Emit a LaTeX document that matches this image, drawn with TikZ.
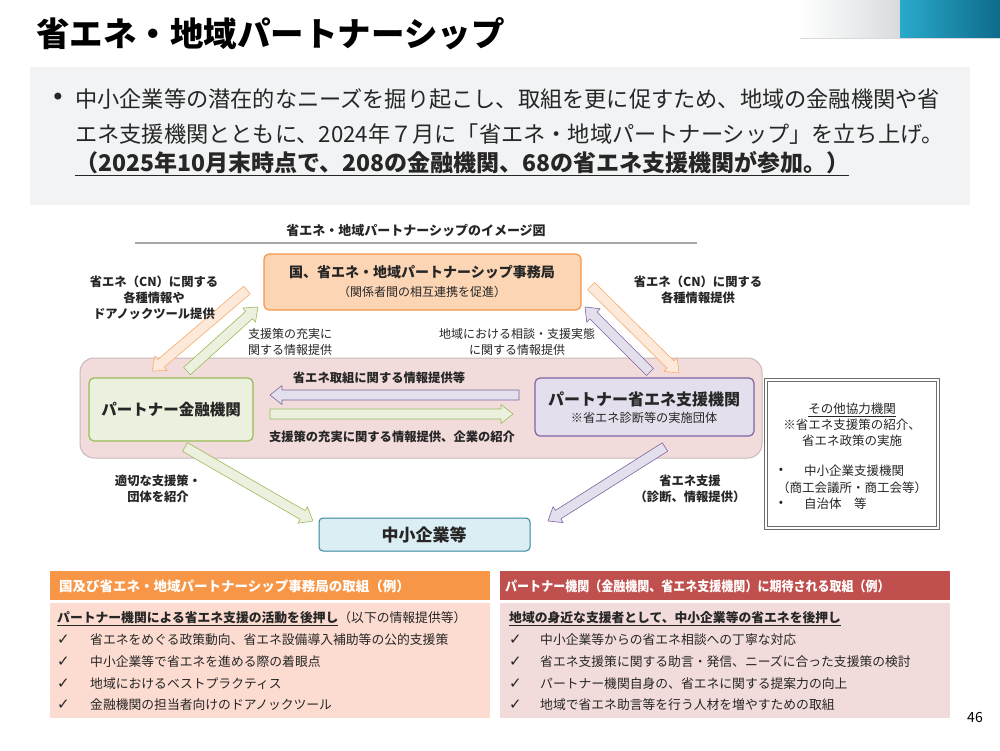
\documentclass[tikz,border=0pt]{standalone}
\usepackage{fontspec}
\setmainfont{Noto Sans CJK JP}
\newfontfamily\dejavu{DejaVu Sans}
\usetikzlibrary{calc}
\definecolor{textc}{HTML}{262626}
\definecolor{graybg}{HTML}{F1F3F4}
\definecolor{orfill}{HTML}{FCD5B4}
\definecolor{orline}{HTML}{F79646}
\definecolor{orlight}{HTML}{FDE9D9}
\definecolor{pinkfill}{HTML}{F2DCDB}
\definecolor{pinkline}{HTML}{C8B9B9}
\definecolor{grfill}{HTML}{EBF1DE}
\definecolor{grline}{HTML}{9BBB59}
\definecolor{pufill}{HTML}{E4DFEC}
\definecolor{puline}{HTML}{8064A2}
\definecolor{blfill}{HTML}{DAEEF3}
\definecolor{blline}{HTML}{31859C}
\definecolor{salmon}{HTML}{FCDCD0}
\definecolor{redh}{HTML}{C0504D}
\definecolor{tealA}{HTML}{2AAACB}
\definecolor{tealB}{HTML}{0E6B8C}
\definecolor{lgray}{HTML}{D8DBDE}
\def\basw{5pt}\def\bahw{9.5pt}\def\bahl{12pt}
\newcommand\blockarrow[3]{%
  \coordinate (ba-h) at ($(#3)!\bahl!(#2)$);
  \path[#1] ($(#2)!\basw!90:(#3)$) -- ($(ba-h)!\basw!90:(#3)$) -- ($(ba-h)!\bahw!90:(#3)$) -- (#3)
    -- ($(ba-h)!\bahw!-90:(#3)$) -- ($(ba-h)!\basw!-90:(#3)$) -- ($(#2)!\basw!-90:(#3)$) -- cycle;
}
\begin{document}
\begin{tikzpicture}[x=1pt,y=-1pt,
  txt/.style={inner sep=0pt, text=textc},
  box/.style={rounded corners=5pt, line width=1.2pt},
  arrOr/.style={fill=orlight, draw=orline!80, line width=0.6pt, line join=round},
  arrGr/.style={fill=grfill, draw=grline, line width=0.6pt, line join=round},
  arrPu/.style={fill=pufill, draw=puline, line width=0.6pt, line join=round},
  lbl/.style={txt, align=center, font={\fontsize{12.3}{16}\selectfont\bfseries}},
  lbln/.style={txt, align=center, font={\fontsize{12}{16}\selectfont}},
  item/.style={txt, anchor=west, font={\fontsize{12.8}{15}\selectfont}},
  chk/.style={txt, anchor=west, font={\dejavu\fontsize{15}{17}\selectfont}}
]
\useasboundingbox (0,0) rectangle (1000,750);
\fill[white] (0,0) rectangle (1000,750);
% header graphics
\shade[left color=white, right color=lgray] (800,0) rectangle (900,38);
\shade[left color=tealA, right color=tealB] (900,0) rectangle (1000,38);
\draw[gray!30, line width=0.8pt] (800,38.5) -- (1000,38.5);
\node[txt, anchor=west, text=black, font={\fontsize{33.5}{36}\selectfont\bfseries}] (title) at (36,34) {省エネ・地域パートナーシップ};
% intro box
\fill[graybg] (30,67) rectangle (970,205);
\node[txt, font={\dejavu\fontsize{24}{26}\selectfont}] (bul) at (58,99) {•};
\node[txt, anchor=west, font={\fontsize{22.2}{26}\selectfont}] (l1) at (75,99) {中小企業等の潜在的なニーズを掘り起こし、取組を更に促すため、地域の金融機関や省};
\node[txt, anchor=west, font={\fontsize{22.2}{26}\selectfont}] (l2) at (75,134) {エネ支援機関とともに、2024年７月に「省エネ・地域パートナーシップ」を立ち上げ。};
\node[txt, anchor=west, font={\fontsize{23}{26}\selectfont\bfseries}] (l3) at (75,164) {\underline{（2025年10月末時点で、208の金融機関、68の省エネ支援機関が参加。）}};
% diagram heading
\node[txt, font={\fontsize{13}{16}\selectfont\bfseries}] (dh) at (416,231) {省エネ・地域パートナーシップのイメージ図};
\draw[gray!70, line width=1.6pt] (135,243) -- (697,243);
% container
\draw[fill=pinkfill, draw=pinkline, line width=1pt, rounded corners=14pt] (80,358) rectangle (762,458);
% top box
\draw[box, fill=orfill, draw=orline] (264,254) rectangle (581,310);
\node[txt, font={\fontsize{14}{17}\selectfont\bfseries}] (top) at (422,272) {国、省エネ・地域パートナーシップ事務局};
\node[txt, font={\fontsize{12}{15}\selectfont}] (topsub) at (422,292) {（関係者間の相互連携を促進）};
% green box
\draw[box, fill=grfill, draw=grline] (89,378) rectangle (253,441);
\node[txt, font={\fontsize{15.5}{18}\selectfont\bfseries}] (fin) at (171,410) {パートナー金融機関};
% purple box
\draw[box, fill=pufill, draw=puline] (535,378) rectangle (754,436);
\node[txt, font={\fontsize{16}{19}\selectfont\bfseries}] (sup) at (644,399) {パートナー省エネ支援機関};
\node[txt, font={\fontsize{12.2}{15}\selectfont}] (supsub) at (644,418) {※省エネ診断等の実施団体};
% bottom box
\draw[box, fill=blfill, draw=blline, line width=1pt, rounded corners=4pt] (319,518) rectangle (530,551);
\node[txt, font={\fontsize{17}{20}\selectfont\bfseries}] (sme) at (424,535) {中小企業等};
% other box
\draw[draw=gray!85!black, double=white, double distance=1.3pt, line width=1pt] (766,380) rectangle (938,528);
\node[txt, font={\fontsize{12.5}{15}\selectfont}] (oth1) at (852,410) {\underline{その他協力機関}};
\node[txt, font={\fontsize{12.5}{15}\selectfont}] (oth2) at (852,425) {※省エネ支援策の紹介、};
\node[txt, font={\fontsize{12.5}{15}\selectfont}] (oth3) at (852,441) {省エネ政策の実施};
\node[txt, font={\fontsize{12.5}{15}\selectfont}] (ob1) at (781,471) {•};
\node[txt, anchor=west, font={\fontsize{12.5}{15}\selectfont}] (oth4) at (804,471) {中小企業支援機関};
\node[txt, font={\fontsize{12.5}{15}\selectfont}] (oth5) at (852,488) {（商工会議所・商工会等）};
\node[txt, font={\fontsize{12.5}{15}\selectfont}] (ob2) at (781,504) {•};
\node[txt, anchor=west, font={\fontsize{12.5}{15}\selectfont}] (oth6) at (804,504) {自治体\quad 等};
% arrow end points
\coordinate (a1s) at (247,290); \coordinate (a1e) at (152,371);
\coordinate (a2s) at (187,371); \coordinate (a2e) at (258,307);
\coordinate (a3s) at (650,372); \coordinate (a3e) at (585,307);
\coordinate (a4s) at (591,286); \coordinate (a4e) at (679,373);
\coordinate (a5s) at (185,447); \coordinate (a5e) at (313,521);
\coordinate (a6s) at (665,447); \coordinate (a6e) at (548,521);
\coordinate (h1s) at (519,395); \coordinate (h1e) at (270,395);
\coordinate (h2s) at (270,414); \coordinate (h2e) at (513,414);
\blockarrow{arrOr}{a1s}{a1e}
\blockarrow{arrGr}{a2s}{a2e}
\blockarrow{arrPu}{a3s}{a3e}
\blockarrow{arrOr}{a4s}{a4e}
\blockarrow{arrGr}{a5s}{a5e}
\blockarrow{arrPu}{a6s}{a6e}
\blockarrow{arrPu}{h1s}{h1e}
\blockarrow{arrGr}{h2s}{h2e}
% arrow labels
\node[lbl] (t1) at (379,378) {省エネ取組に関する情報提供等};
\node[lbl] (t2) at (392,437) {支援策の充実に関する情報提供、企業の紹介};
\node[lbl] (t3) at (154,298) {省エネ（CN）に関する\\各種情報や\\ドアノックツール提供};
\node[lbl] (t4) at (698,290) {省エネ（CN）に関する\\各種情報提供};
\node[lbln, align=left, anchor=west] (t5) at (248,342) {支援策の充実に\\関する情報提供};
\node[lbln] (t6) at (517,342) {地域における相談・支援実態\\に関する情報提供};
\node[lbl] (t7) at (158,489) {適切な支援策・\\団体を紹介};
\node[lbl] (t8) at (690,489) {省エネ支援\\（診断、情報提供）};
% bottom left panel
\fill[orline] (50,571) rectangle (490,600);
\fill[salmon] (50,603) rectangle (490,718);
\node[txt, anchor=west, text=white, font={\fontsize{13.5}{16}\selectfont\bfseries}] (lh) at (59,586) {国及び省エネ・地域パートナーシップ事務局の取組（例）};
\node[item] (lb0) at (57,619) {\underline{\bfseries パートナー機関による省エネ支援の活動を後押し}（以下の情報提供等）};
\node[chk] (lc1) at (57,640) {✓};
\node[item] (lb1) at (90,640) {省エネをめぐる政策動向、省エネ設備導入補助等の公的支援策};
\node[chk] (lc2) at (57,662) {✓};
\node[item] (lb2) at (90,662) {中小企業等で省エネを進める際の着眼点};
\node[chk] (lc3) at (57,684) {✓};
\node[item] (lb3) at (90,684) {地域におけるベストプラクティス};
\node[chk] (lc4) at (57,705) {✓};
\node[item] (lb4) at (90,705) {金融機関の担当者向けのドアノックツール};
% bottom right panel
\fill[redh] (500,571) rectangle (950,600);
\fill[pinkfill] (500,603) rectangle (950,718);
\node[txt, anchor=west, text=white, font={\fontsize{13.5}{16}\selectfont\bfseries}] (rh) at (505,586) {\scalebox{0.89}[1]{パートナー機関（金融機関、省エネ支援機関）に期待される取組（例）}};
\node[item] (rb0) at (509,619) {\underline{\bfseries 地域の身近な支援者として、中小企業等の省エネを後押し}};
\node[chk] (rc1) at (509,640) {✓};
\node[item] (rb1) at (540,640) {中小企業等からの省エネ相談への丁寧な対応};
\node[chk] (rc2) at (509,662) {✓};
\node[item] (rb2) at (540,662) {省エネ支援策に関する助言・発信、ニーズに合った支援策の検討};
\node[chk] (rc3) at (509,684) {✓};
\node[item] (rb3) at (540,684) {パートナー機関自身の、省エネに関する提案力の向上};
\node[chk] (rc4) at (509,705) {✓};
\node[item] (rb4) at (540,705) {地域で省エネ助言等を行う人材を増やすための取組};
\node[txt, text=black, font={\fontsize{14}{16}\selectfont}] (pg) at (975,717) {46};
\end{tikzpicture}
\end{document}
